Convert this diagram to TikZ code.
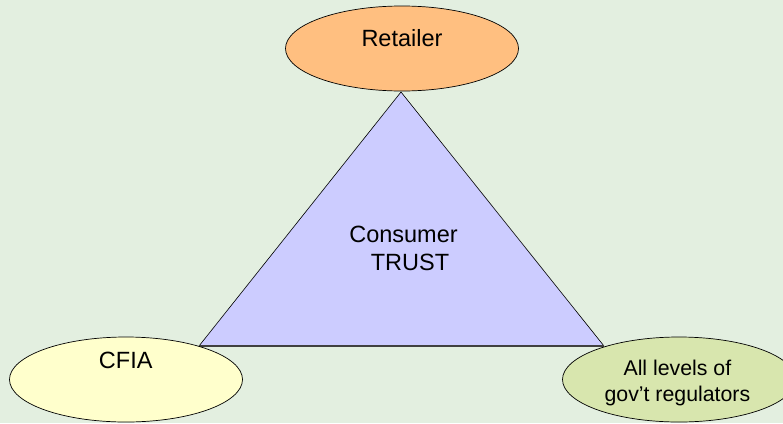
\documentclass[tikz,border=0pt]{standalone}
\usepackage{fontspec}
\setmainfont{Liberation Sans}
\usetikzlibrary{shapes.geometric}
\definecolor{bgcol}{RGB}{227,239,224}
\definecolor{retcol}{RGB}{255,191,128}
\definecolor{tricol}{RGB}{204,204,255}
\definecolor{cfiacol}{RGB}{255,255,204}
\definecolor{govcol}{RGB}{216,230,174}
\tikzset{
  actor/.style={ellipse, draw=black, line width=0.7pt, minimum width=233pt, minimum height=85pt, inner sep=0pt},
  lbl/.style={inner sep=0pt, anchor=north, align=center, font=\fontsize{23.5}{28}\selectfont},
}
\begin{document}
\begin{tikzpicture}[x=1pt,y=-1pt]
\fill[bgcol] (0,0) rectangle (783,423);
\useasboundingbox (0,0) rectangle (783,423);
\clip (0,0) rectangle (783,423);
% triangle
\coordinate (apex) at (401,92);
\coordinate (bl) at (199,346);
\coordinate (br) at (604,346);
\fill[tricol] (apex) -- (br) -- (bl) -- cycle;
\draw[black, line width=0.6pt] (bl) -- (apex) -- (br);
\draw[black!75, line width=1.3pt] (bl) -- (br);
\node[lbl] (trust) at (403.5,225.5) {Consumer\\\hspace*{13pt}TRUST};
% actors
\node[actor, fill=retcol] (ret) at (402,48.5) {};
\node[lbl] (rett) at (402,29.3) {Retailer};
\node[actor, fill=cfiacol] (cfia) at (126,379.5) {};
\node[lbl] (cfiat) at (125.7,352) {CFIA};
\node[actor, fill=govcol] (gov) at (679,379.5) {};
\node[lbl, font=\fontsize{21.3}{25.7}\selectfont] (govt) at (677.4,359.7) {All levels of\\gov’t regulators};
\end{tikzpicture}
\end{document}
